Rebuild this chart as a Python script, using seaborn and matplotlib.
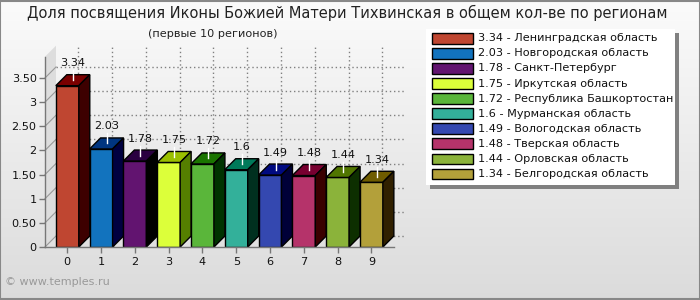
import numpy as np
import pandas as pd
import matplotlib
matplotlib.use("Agg")
import matplotlib.pyplot as plt
from matplotlib.patches import Polygon, Rectangle
from matplotlib.lines import Line2D
import seaborn as sns

# ---- data ----
regions = ["Ленинградская область", "Новгородская область", "Санкт-Петербург",
           "Иркутская область", "Республика Башкортостан", "Мурманская область",
           "Вологодская область", "Тверская область", "Орловская область",
           "Белгородская область"]
values = [3.34, 2.03, 1.78, 1.75, 1.72, 1.6, 1.49, 1.48, 1.44, 1.34]
value_labels = ["3.34", "2.03", "1.78", "1.75", "1.72", "1.6", "1.49", "1.48", "1.44", "1.34"]
x_labels = ["0", "1", "2", "3", "4", "5", "6", "7", "8", "9"]
y_ticks = [0, 0.5, 1, 1.5, 2, 2.5, 3, 3.5]
y_tick_labels = ["0", "0.50", "1", "1.50", "2", "2.50", "3", "3.50"]
title = "Доля посвящения Иконы Божией Матери Тихвинская в общем кол-ве по регионам"
subtitle = "(первые 10 регионов)"
watermark = "© www.temples.ru"

front_colors = ["#bf4631", "#1273be", "#621470", "#dcff3a", "#5ab63a",
                "#33b09a", "#3448b0", "#b5336a", "#8bb33a", "#b3a03a"]
top_colors = ["#7a0000", "#003580", "#2a0040", "#9abf00", "#1a7400",
              "#007a5a", "#000a80", "#780030", "#507500", "#6e5c00"]
side_colors = ["#3d0000", "#000040", "#000000", "#557f00", "#003300",
               "#00301f", "#000038", "#3a0000", "#0d2f00", "#302000"]

W, H = 700, 300
fs = 8.1
fig = plt.figure(figsize=(7, 3), dpi=100)

# background gradient
bg = fig.add_axes([0, 0, 1, 1], zorder=-10)
grad = np.linspace(0.985, 0.86, 256).reshape(-1, 1)
bg.imshow(np.dstack([grad, grad, grad]), aspect="auto", extent=[0, 1, 0, 1])
bg.set_xlim(0, 1); bg.set_ylim(0, 1)
bg.axis("off")
bg.add_patch(Rectangle((0.0007, 0.0017), 0.9986, 0.9966, fill=False,
                       edgecolor="#888888", lw=1.5, transform=bg.transAxes))

# main axes (pixel layout)
left, right, bottom_px, top_px = 45, 394, 247, 56.7
ax = fig.add_axes([left / W, (H - bottom_px) / H, (right - left) / W, (bottom_px - top_px) / H])
ax.set_facecolor("none")
xmin, xmax = -0.66, 9.67
ymin, ymax = 0, (bottom_px - top_px) / 48.3
ax.set_xlim(xmin, xmax)
ax.set_ylim(ymin, ymax)

pxx = (xmax - xmin) / (right - left)   # data units per pixel (x)
pxy = (ymax - ymin) / (bottom_px - top_px)  # data units per pixel (y)
depth = 11
dxd, dyd = depth * pxx, depth * pxy

# left wall
ax.add_patch(Polygon([(xmin, 0), (xmin + dxd, dyd), (xmin + dxd, ymax + dyd), (xmin, ymax)],
                     closed=True, facecolor="#dddddd", edgecolor="none", clip_on=False, zorder=0.5))
for yt in y_ticks:
    ax.add_line(Line2D([xmin + dxd, xmax + dxd], [yt + dyd, yt + dyd], color="#808080",
                       lw=1, ls=(0, (1, 2)), clip_on=False, zorder=0.6))
    ax.add_line(Line2D([xmin, xmin + dxd], [yt, yt + dyd], color="#999999",
                       lw=0.8, clip_on=False, zorder=0.6))
for xt in range(len(x_labels)):
    ax.add_line(Line2D([xt + dxd, xt + dxd], [dyd, ymax + dyd], color="#808080",
                       lw=1, ls=(0, (1, 2)), clip_on=False, zorder=0.6))

# bars
df = pd.DataFrame({"idx": x_labels, "value": values})
sns.barplot(data=df, x="idx", y="value", hue="idx", palette=front_colors,
            saturation=1, width=0.68, edgecolor="black", linewidth=1,
            legend=False, ax=ax)
ax.set_xlim(xmin, xmax)
ax.set_ylim(ymin, ymax)

patches = sorted([p for p in ax.patches if isinstance(p, Rectangle) and p.get_height() > 0],
                 key=lambda p: p.get_x())[:len(values)]
for i, p in enumerate(patches):
    x0, w, h = p.get_x(), p.get_width(), p.get_height()
    x1 = x0 + w
    z = 3 + i * 0.01
    p.set_zorder(z)
    ax.add_patch(Polygon([(x0, h), (x1, h), (x1 + dxd, h + dyd), (x0 + dxd, h + dyd)],
                         closed=True, facecolor=top_colors[i], edgecolor="black", lw=1,
                         zorder=z, clip_on=False))
    ax.add_patch(Polygon([(x1, 0), (x1 + dxd, dyd), (x1 + dxd, h + dyd), (x1, h)],
                         closed=True, facecolor=side_colors[i], edgecolor="black", lw=1,
                         zorder=z, clip_on=False))
    xc = x0 + w / 2 + dxd / 2
    ymid = h + dyd / 2
    ax.add_line(Line2D([xc, xc], [ymid, ymid + 10 * pxy], color="white", lw=1,
                       zorder=5, clip_on=False))
    ax.text(xc, ymid + 17 * pxy, value_labels[i], ha="center", va="center",
            fontsize=fs, color="#111111", zorder=6, clip_on=False)

# axes styling
for s in ["top", "right"]:
    ax.spines[s].set_visible(False)
for s in ["left", "bottom"]:
    ax.spines[s].set_color("#777777")
    ax.spines[s].set_linewidth(1)
    ax.spines[s].set_zorder(4)
ax.set_yticks(y_ticks)
ax.set_yticklabels(y_tick_labels)
ax.set_xticks(range(len(x_labels)))
ax.set_xticklabels(x_labels)
ax.tick_params(axis="both", length=4, width=1, color="#777777", labelsize=fs,
               labelcolor="#111111", pad=2)
ax.tick_params(axis="x", pad=3)
ax.set_xlabel("")
ax.set_ylabel("")
ax.grid(False)

# titles
fig.text(27 / W, 1 - 13 / H, title, ha="left", va="center", fontsize=10.5, color="#222222")
fig.text(213 / W, 1 - 34 / H, subtitle, ha="center", va="center", fontsize=fs, color="#222222")
fig.text(5 / W, 1 - 282 / H, watermark, ha="left", va="center", fontsize=8, color="#999999")

# legend (manual)
lx0, ly0, lx1, ly1 = 426, 29, 675, 185
bg.add_patch(Rectangle(((lx0 + 4) / W, 1 - (ly1 + 4) / H), (lx1 - lx0) / W, (ly1 - ly0) / H,
                       facecolor="#808080", edgecolor="none", zorder=20, transform=bg.transAxes))
bg.add_patch(Rectangle((lx0 / W, 1 - ly1 / H), (lx1 - lx0) / W, (ly1 - ly0) / H,
                       facecolor="white", edgecolor="none", zorder=21, transform=bg.transAxes))
for i, (v, r) in enumerate(zip(value_labels, regions)):
    yc = 38.3 + 15.07 * i
    bg.add_patch(Rectangle((432 / W, 1 - (yc + 5.3) / H), 41 / W, 10.6 / H,
                           facecolor=front_colors[i], edgecolor="black", lw=1,
                           zorder=22, transform=bg.transAxes))
    bg.text(478 / W, 1 - yc / H, f"{v} - {r}", ha="left", va="center", fontsize=fs,
            color="#111111", zorder=23, transform=bg.transAxes)

fig.savefig("out.png", dpi=100)
